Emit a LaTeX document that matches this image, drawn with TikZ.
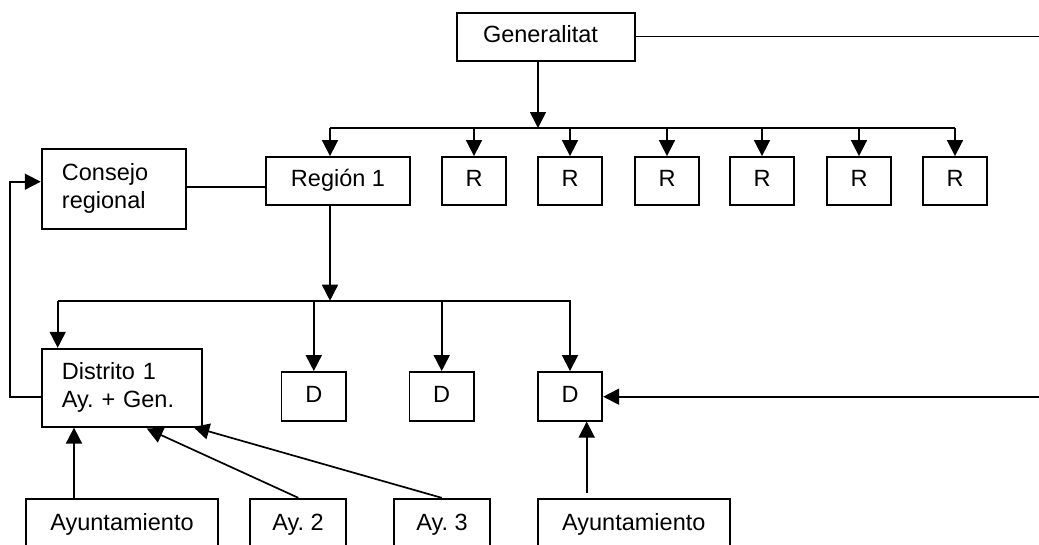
\documentclass[tikz,border=0pt]{standalone}
\usepackage{fontspec}
\setmainfont{Liberation Sans}
\usetikzlibrary{arrows.meta}
\begin{document}
\frenchspacing
\begin{tikzpicture}[x=1pt,y=-1pt,
  font=\fontsize{23.5}{28}\selectfont,
  box/.style={draw, line width=1.8pt, inner sep=0pt, text height=16.8pt, text depth=4.9pt},
  lbox/.style={draw, line width=1.8pt, align=left, inner ysep=0pt},
  conn/.style={line width=1.7pt},
  arr/.style={line width=1.7pt, -{Triangle[length=16pt,width=16pt]}}]
\useasboundingbox (0,0) rectangle (1039,544);
\clip (0,0) rectangle (1039,544);
% top
\node[lbox, inner xsep=26pt, text width=126pt, minimum height=48pt, text height=16.8pt, text depth=4.9pt] (gen) at (546,37) {Generalitat};
\node[box, minimum width=144.3pt, minimum height=48pt] (reg1) at (338,181) {Región 1};
\foreach \i/\x in {1/474,2/570,3/667,4/762,5/859,6/955}{
  \node[box, minimum width=64.3pt, minimum height=48pt] (r\i) at (\x,181) {R};
}
\node[lbox, inner xsep=20.3pt, text width=103.7pt, minimum height=79.7pt] (cons) at (113.8,188.8) {Consejo\\regional};
% districts
\node[lbox, inner xsep=20.3pt, text width=119.7pt, minimum height=78pt] (dist) at (121.8,387.7) {Distrito 1\\Ay. + Gen.};
\node[box, minimum width=64.5pt, minimum height=48.7pt] (d1) at (313.8,396.3) {D};
\node[box, minimum width=64.5pt, minimum height=48.7pt] (d2) at (441.7,396.3) {D};
\node[box, minimum width=64.5pt, minimum height=48.7pt] (d3) at (570,396.3) {D};
% bottom
\node[box, minimum width=192pt, minimum height=52.6pt] (ay1) at (122,525) {Ayuntamiento};
\node[box, minimum width=96pt, minimum height=52.6pt] (ay2) at (298,525) {Ay. 2};
\node[box, minimum width=96pt, minimum height=52.6pt] (ay3) at (442,525) {Ay. 3};
\node[box, minimum width=192.3pt, minimum height=52.6pt] (ayr) at (633.8,525) {Ayuntamiento};
% coordinates
\coordinate (busR) at (538,128);
\coordinate (busD) at (330,300.7);
\coordinate (edgeT) at (1039,36.5);
\coordinate (edgeB) at (1039,396.7);
% Generalitat connections
\draw[conn] (gen.east |- edgeT) -- (edgeT);
\draw[arr] (gen.south -| busR) -- (busR);
\draw[conn] (330,128) -- (955,128);
\draw[arr] (330,128) -- (reg1.north -| 330,0);
\foreach \i/\x in {1/474,2/570,3/667,4/762,5/859,6/955}{
  \draw[arr] (\x,128) -- (r\i.north);
}
% Consejo link
\draw[conn] (cons.east |- 0,187) -- (reg1.west |- 0,187);
\draw[arr] (dist.west |- 0,396.7) -- (10,396.7) -- (10,181.7) -- (cons.west |- 0,181.7);
% Region to districts
\draw[arr] (reg1.south -| busD) -- (busD);
\draw[conn] (57.7,300.7) -- (570.7,300.7);
\draw[arr] (57.7,300.7) -- (dist.north -| 57.7,0);
\draw[arr] (313.8,300.7) -- (d1.north);
\draw[arr] (441.7,300.7) -- (d2.north);
\draw[arr] (570,300.7) -- (d3.north);
\draw[arr] (edgeB) -- (d3.east |- edgeB);
% bottom arrows
\draw[arr] (ay1.north -| 74,0) -- (dist.south -| 74,0);
\draw[arr] (ay2.north -| 298.3,0) -- (146.7,428.5);
\draw[arr] (ay3.north -| 441.7,0) -- (193.3,427);
\draw[arr] (586.7,493.3) -- (d3.south -| 586.7,0);
\end{tikzpicture}
\end{document}
